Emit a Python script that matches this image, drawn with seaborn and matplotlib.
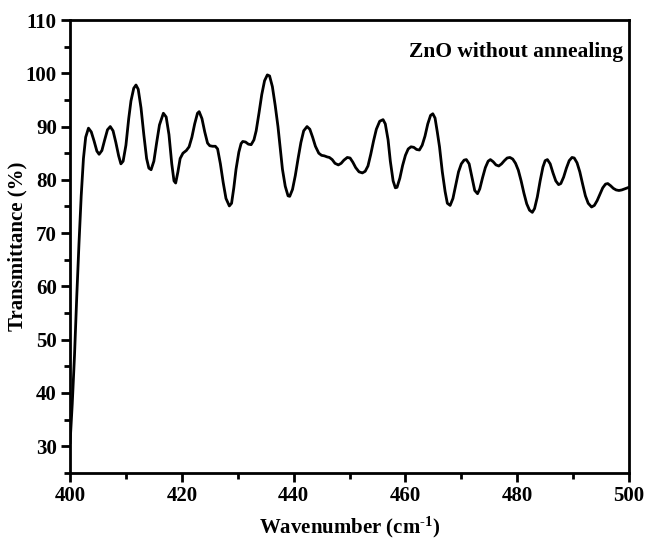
import matplotlib
matplotlib.use("Agg")
import matplotlib.pyplot as plt
import seaborn as sns
import pandas as pd
from matplotlib.ticker import MultipleLocator

# FTIR transmittance of the as-deposited ZnO film
wavenumber = [
    400.0, 400.4, 400.8, 401.2, 401.6, 402.0, 402.4, 402.8, 403.3, 403.8,
    404.3, 404.8, 405.2, 405.7, 406.2, 406.7, 407.2, 407.7, 408.2, 408.7,
    409.1, 409.5, 410.0, 410.5, 410.9, 411.4, 411.8, 412.2, 412.7, 413.2,
    413.7, 414.1, 414.5, 415.0, 415.5, 416.0, 416.7, 417.2, 417.7, 418.2,
    418.6, 418.9, 419.3, 419.7, 420.2, 420.8, 421.3, 421.8, 422.3, 422.8,
    423.1, 423.6, 424.1, 424.6, 425.0, 425.5, 426.0, 426.4, 426.9, 427.4,
    427.9, 428.5, 428.9, 429.3, 429.7, 430.2, 430.6, 430.9, 431.4, 431.9,
    432.4, 432.9, 433.3, 433.8, 434.3, 434.8, 435.3, 435.7, 436.2, 436.7,
    437.2, 437.6, 438.0, 438.5, 439.0, 439.3, 439.8, 440.3, 440.8, 441.3,
    441.8, 442.4, 442.9, 443.4, 443.9, 444.5, 445.0, 445.5, 446.0, 446.4,
    446.9, 447.4, 448.0, 448.5, 449.0, 449.6, 450.1, 450.6, 451.1, 451.7,
    452.3, 452.8, 453.3, 453.8, 454.3, 454.8, 455.4, 456.0, 456.4, 456.9,
    457.3, 457.8, 458.2, 458.5, 459.0, 459.5, 460.0, 460.5, 461.0, 461.5,
    462.0, 462.5, 463.0, 463.5, 464.0, 464.5, 464.9, 465.3, 465.7, 466.1,
    466.6, 467.1, 467.5, 468.0, 468.5, 469.0, 469.5, 470.0, 470.5, 470.9,
    471.4, 471.9, 472.4, 472.9, 473.3, 473.8, 474.3, 474.8, 475.2, 475.7,
    476.2, 476.7, 477.2, 477.7, 478.2, 478.7, 479.2, 479.7, 480.2, 480.7,
    481.2, 481.7, 482.2, 482.7, 483.1, 483.6, 484.1, 484.6, 485.0, 485.4,
    485.9, 486.4, 486.9, 487.4, 487.8, 488.3, 488.8, 489.3, 489.8, 490.2,
    490.7, 491.2, 491.7, 492.2, 492.7, 493.3, 493.8, 494.3, 494.8, 495.3,
    495.8, 496.2, 496.7, 497.2, 497.7, 498.2, 498.7, 499.2, 500.0,
]
transmittance = [
    30.5, 38.0, 47.0, 58.0, 68.0, 77.0, 84.0, 88.0, 89.7, 89.0,
    87.3, 85.4, 84.8, 85.5, 87.5, 89.4, 90.0, 89.2, 87.0, 84.5,
    83.0, 83.5, 86.5, 91.5, 94.8, 97.2, 97.8, 97.0, 93.5, 88.5,
    84.0, 82.2, 81.9, 83.5, 87.0, 90.3, 92.5, 91.8, 88.5, 83.0,
    79.8, 79.4, 81.5, 84.0, 85.0, 85.5, 86.2, 88.0, 90.5, 92.5,
    92.8, 91.5, 89.0, 86.9, 86.4, 86.3, 86.3, 85.8, 83.0, 79.5,
    76.5, 75.1, 75.6, 78.5, 82.0, 85.2, 86.8, 87.2, 87.1, 86.7,
    86.6, 87.5, 89.2, 92.5, 96.0, 98.6, 99.7, 99.5, 97.5, 94.0,
    90.0, 86.0, 82.0, 78.8, 77.0, 76.9, 78.2, 80.8, 84.0, 87.0,
    89.2, 90.0, 89.5, 88.0, 86.3, 85.0, 84.6, 84.5, 84.3, 84.2,
    83.8, 83.1, 82.8, 83.1, 83.7, 84.2, 84.1, 83.3, 82.3, 81.5,
    81.3, 81.6, 82.6, 84.8, 87.3, 89.5, 91.0, 91.3, 90.5, 87.5,
    83.5, 79.8, 78.5, 78.6, 80.3, 82.7, 84.6, 85.8, 86.2, 86.1,
    85.7, 85.6, 86.5, 88.2, 90.5, 92.1, 92.4, 91.6, 89.0, 86.2,
    81.5, 77.8, 75.6, 75.2, 76.5, 79.0, 81.5, 83.0, 83.7, 83.8,
    83.0, 80.5, 78.0, 77.4, 78.3, 80.4, 82.3, 83.5, 83.8, 83.4,
    82.8, 82.6, 83.0, 83.6, 84.1, 84.2, 83.9, 83.1, 81.8, 79.8,
    77.5, 75.5, 74.3, 73.9, 74.6, 76.8, 79.8, 82.4, 83.6, 83.8,
    83.0, 81.3, 79.8, 79.1, 79.3, 80.5, 82.2, 83.6, 84.2, 84.1,
    83.2, 81.5, 79.2, 77.0, 75.6, 74.9, 75.2, 76.1, 77.3, 78.5,
    79.2, 79.3, 78.9, 78.4, 78.1, 78.0, 78.1, 78.3, 78.6,
]

x_ticks = [400, 420, 440, 460, 480, 500]
y_ticks = [30, 40, 50, 60, 70, 80, 90, 100, 110]
sample_label = "ZnO without annealing"

df = pd.DataFrame({"Wavenumber": wavenumber, "Transmittance": transmittance})

sns.set_style("ticks")
plt.rcParams["font.family"] = ["Liberation Serif", "DejaVu Serif"]
plt.rcParams["font.weight"] = "bold"
plt.rcParams["text.color"] = "black"
plt.rcParams["axes.labelcolor"] = "black"
plt.rcParams["mathtext.fontset"] = "custom"
plt.rcParams["mathtext.rm"] = "Liberation Serif:bold"
plt.rcParams["mathtext.bf"] = "Liberation Serif:bold"
plt.rcParams["mathtext.it"] = "Liberation Serif:bold"

fig = plt.figure(figsize=(6.46, 5.41), dpi=100)
ax = fig.add_axes([0.1084, 0.126, 0.8653, 0.837])

sns.lineplot(data=df, x="Wavenumber", y="Transmittance", color="black",
             linewidth=2.0, estimator=None, sort=False, ax=ax)

ax.set_xlim(400, 500)
ax.set_ylim(25, 110)
ax.set_xticks(x_ticks)
ax.set_yticks(y_ticks)
ax.xaxis.set_minor_locator(MultipleLocator(10))
ax.yaxis.set_minor_locator(MultipleLocator(5))

for side in ["top", "right", "bottom", "left"]:
    ax.spines[side].set_visible(True)
    ax.spines[side].set_linewidth(2.0)
    ax.spines[side].set_color("black")

ax.tick_params(axis="both", which="major", direction="out", length=6.5, width=2,
               labelsize=15, colors="black", top=False, right=False, pad=3)
ax.tick_params(axis="both", which="minor", direction="out", length=4.5, width=2,
               colors="black", top=False, right=False)
for lab in ax.get_xticklabels() + ax.get_yticklabels():
    lab.set_fontweight("bold")

ax.set_xlabel(r"Wavenumber (cm$^{\text{-1}}$)", fontsize=15, fontweight="bold",
              labelpad=6, color="black")
ax.set_ylabel("Transmittance (%)", fontsize=15, fontweight="bold", color="black")
ax.yaxis.set_label_coords(-0.077, 0.5)

ax.text(498.9, 104.0, sample_label, ha="right", va="center",
        fontsize=15.5, fontweight="bold", color="black")

fig.savefig("out.png", dpi=100)
